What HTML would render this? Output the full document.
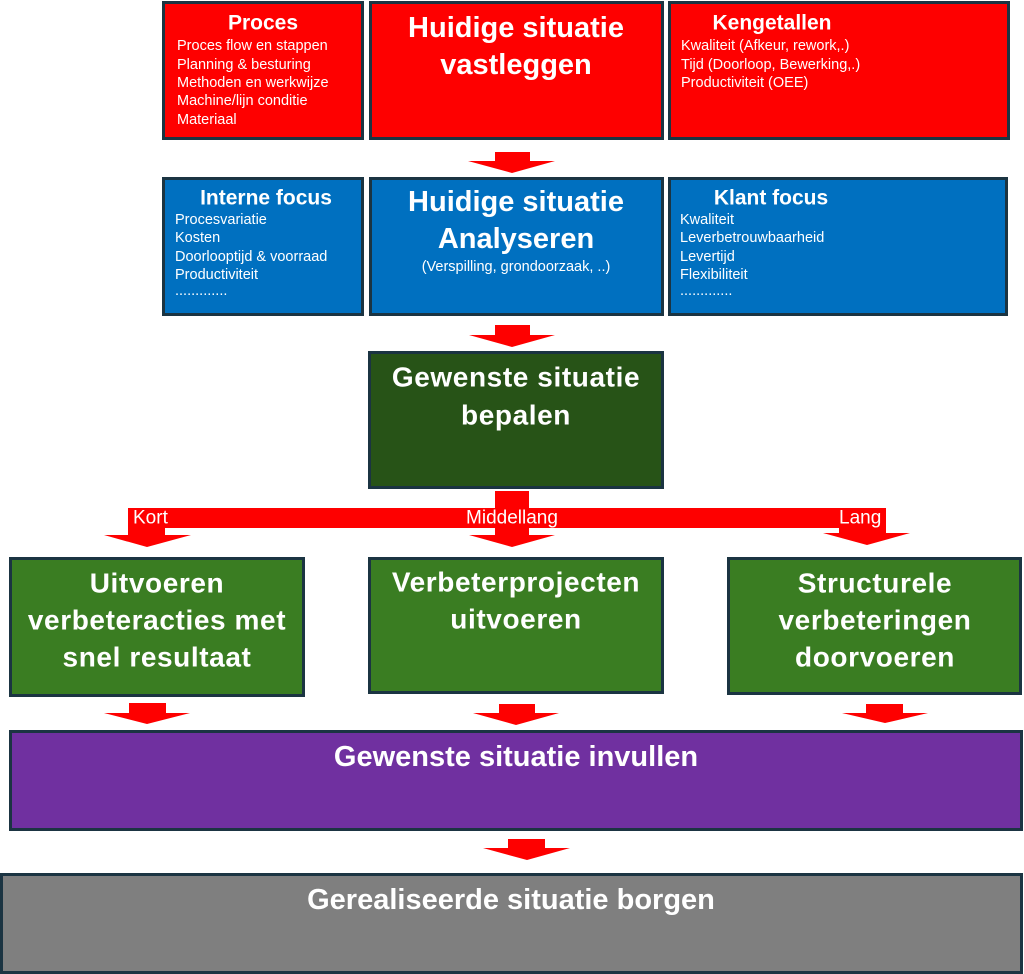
<!DOCTYPE html>
<html>
<head>
<meta charset="utf-8">
<style>
  html, body { margin: 0; padding: 0; background: #ffffff; }
  body { width: 1024px; height: 974px; overflow: hidden; }
  svg { display: block; }
  text { font-family: "Liberation Sans", Arial, sans-serif; fill: #ffffff; }
  .t { font-weight: bold; }
</style>
</head>
<body>
<svg width="1024" height="974" viewBox="0 0 1024 974" xmlns="http://www.w3.org/2000/svg">
  <!-- ROW 1: red -->
  <rect x="163.5" y="2.5" width="199" height="136" fill="#fe0000" stroke="#1b3442" stroke-width="3"/>
  <rect x="370.5" y="2.5" width="292" height="136" fill="#fe0000" stroke="#1b3442" stroke-width="3"/>
  <rect x="669.5" y="2.5" width="339" height="136" fill="#fe0000" stroke="#1b3442" stroke-width="3"/>

  <text class="t" x="263" y="23" font-size="21" text-anchor="middle" dominant-baseline="central">Proces</text>
  <g font-size="14.5" dominant-baseline="central">
    <text x="177" y="46">Proces flow en stappen</text>
    <text x="177" y="65">Planning &amp; besturing</text>
    <text x="177" y="83">Methoden en werkwijze</text>
    <text x="177" y="101">Machine/lijn conditie</text>
    <text x="177" y="120">Materiaal</text>
  </g>

  <text class="t" x="516" y="28" font-size="29" text-anchor="middle" dominant-baseline="central">Huidige situatie</text>
  <text class="t" x="516" y="65" font-size="29" text-anchor="middle" dominant-baseline="central">vastleggen</text>

  <text class="t" x="772" y="23" font-size="21" text-anchor="middle" dominant-baseline="central">Kengetallen</text>
  <g font-size="14.5" dominant-baseline="central">
    <text x="681" y="46">Kwaliteit (Afkeur, rework,.)</text>
    <text x="681" y="65">Tijd (Doorloop, Bewerking,.)</text>
    <text x="681" y="83">Productiviteit (OEE)</text>
  </g>

  <!-- Arrow 1 -->
  <polygon points="495,152 530,152 530,161 555,161 512,173 468,161 495,161" fill="#fe0000"/>

  <!-- ROW 2: blue -->
  <rect x="163.5" y="178.5" width="199" height="136" fill="#0070c0" stroke="#1b3442" stroke-width="3"/>
  <rect x="370.5" y="178.5" width="292" height="136" fill="#0070c0" stroke="#1b3442" stroke-width="3"/>
  <rect x="669.5" y="178.5" width="337" height="136" fill="#0070c0" stroke="#1b3442" stroke-width="3"/>

  <text class="t" x="266" y="198" font-size="21" text-anchor="middle" dominant-baseline="central">Interne focus</text>
  <g font-size="14.5" dominant-baseline="central">
    <text x="175" y="220">Procesvariatie</text>
    <text x="175" y="238">Kosten</text>
    <text x="175" y="257">Doorlooptijd &amp; voorraad</text>
    <text x="175" y="275">Productiviteit</text>
    <text x="175" y="291">.............</text>
  </g>

  <text class="t" x="516" y="202" font-size="29" text-anchor="middle" dominant-baseline="central">Huidige situatie</text>
  <text class="t" x="516" y="239" font-size="29" text-anchor="middle" dominant-baseline="central">Analyseren</text>
  <text x="516" y="267" font-size="14.5" text-anchor="middle" dominant-baseline="central">(Verspilling, grondoorzaak, ..)</text>

  <text class="t" x="771" y="198" font-size="21" text-anchor="middle" dominant-baseline="central">Klant focus</text>
  <g font-size="14.5" dominant-baseline="central">
    <text x="680" y="220">Kwaliteit</text>
    <text x="680" y="238">Leverbetrouwbaarheid</text>
    <text x="680" y="257">Levertijd</text>
    <text x="680" y="275">Flexibiliteit</text>
    <text x="680" y="291">.............</text>
  </g>

  <!-- Arrow 2 -->
  <polygon points="495,325 530,325 530,335 555,335 512,347 469,335 495,335" fill="#fe0000"/>

  <!-- Dark green -->
  <rect x="369.5" y="352.5" width="293" height="135" fill="#275317" stroke="#1b3442" stroke-width="3"/>
  <text class="t" x="516" y="377" font-size="28" letter-spacing="0.6" text-anchor="middle" dominant-baseline="central">Gewenste situatie</text>
  <text class="t" x="516" y="415" font-size="28" letter-spacing="0.6" text-anchor="middle" dominant-baseline="central">bepalen</text>

  <!-- Branch arrows -->
  <rect x="495" y="491" width="34" height="45" fill="#fe0000"/>
  <rect x="128" y="508" width="758" height="20" fill="#fe0000"/>
  <rect x="128" y="508" width="37" height="28" fill="#fe0000"/>
  <polygon points="104,535 191,535 147,547" fill="#fe0000"/>
  <polygon points="469,535 555,535 512,547" fill="#fe0000"/>
  <rect x="839" y="508" width="47" height="26" fill="#fe0000"/>
  <polygon points="823,533 910,533 867,545" fill="#fe0000"/>
  <text x="133" y="518" font-size="19" dominant-baseline="central">Kort</text>
  <text x="512" y="518" font-size="19" text-anchor="middle" dominant-baseline="central">Middellang</text>
  <text x="839" y="518" font-size="19" dominant-baseline="central">Lang</text>

  <!-- Green row -->
  <rect x="10.5" y="558.5" width="293" height="137" fill="#3a7d22" stroke="#1b3442" stroke-width="3"/>
  <rect x="369.5" y="558.5" width="293" height="134" fill="#3a7d22" stroke="#1b3442" stroke-width="3"/>
  <rect x="728.5" y="558.5" width="292" height="135" fill="#3a7d22" stroke="#1b3442" stroke-width="3"/>

  <g class="t" font-size="28" letter-spacing="0.6" text-anchor="middle" dominant-baseline="central" font-weight="bold">
    <text x="157" y="583">Uitvoeren</text>
    <text x="157" y="620">verbeteracties met</text>
    <text x="157" y="657">snel resultaat</text>
    <text x="516" y="582">Verbeterprojecten</text>
    <text x="516" y="619">uitvoeren</text>
    <text x="875" y="583">Structurele</text>
    <text x="875" y="620">verbeteringen</text>
    <text x="875" y="657">doorvoeren</text>
  </g>

  <!-- Arrows to purple -->
  <polygon points="129,703 166,703 166,713 190,713 147,724 104,713 129,713" fill="#fe0000"/>
  <polygon points="499,704 535,704 535,713 559,713 516,725 473,713 499,713" fill="#fe0000"/>
  <polygon points="866,704 903,704 903,713 928,713 885,723 842,713 866,713" fill="#fe0000"/>

  <!-- Purple -->
  <rect x="10.5" y="731.5" width="1011" height="98" fill="#7030a0" stroke="#1b3442" stroke-width="3"/>
  <text class="t" x="516" y="757" font-size="29" text-anchor="middle" dominant-baseline="central">Gewenste situatie invullen</text>

  <!-- Arrow to gray -->
  <polygon points="508,839 545,839 545,848 570,848 527,860 483,848 508,848" fill="#fe0000"/>

  <!-- Gray -->
  <rect x="1.5" y="874.5" width="1020" height="98" fill="#7f7f7f" stroke="#1b3442" stroke-width="3"/>
  <text class="t" x="511" y="900" font-size="29" text-anchor="middle" dominant-baseline="central">Gerealiseerde situatie borgen</text>
</svg>
</body>
</html>
